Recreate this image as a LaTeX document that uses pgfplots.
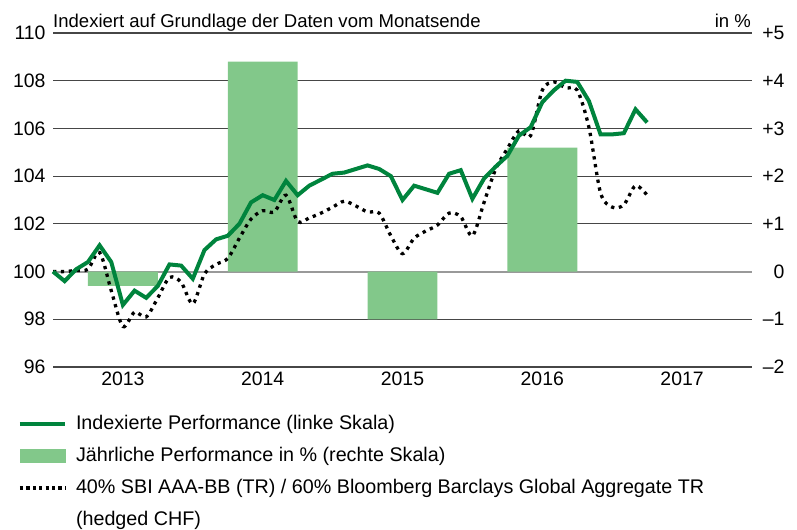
\documentclass[border=0pt]{standalone}
\usepackage{fontspec}
\setmainfont{Liberation Sans}
\usepackage{pgfplots}
\usepackage{pgfplotstable}
\pgfplotsset{compat=1.18}
\definecolor{lgreen}{RGB}{130,200,138}
\definecolor{dgreen}{RGB}{0,132,61}
\definecolor{gridc}{RGB}{70,70,70}
\pgfplotstableread{
m v
0 100.0
1 99.6
2 100.1
3 100.4
4 101.1
5 100.4
6 98.6
7 99.2
8 98.9
9 99.4
10 100.3
11 100.25
12 99.7
13 100.9
14 101.35
15 101.5
16 102.0
17 102.9
18 103.2
19 103.0
20 103.8
21 103.2
22 103.6
23 103.85
24 104.1
25 104.15
26 104.3
27 104.45
28 104.3
29 104.0
30 103.0
31 103.6
32 103.45
33 103.3
34 104.1
35 104.25
36 103.05
37 103.9
38 104.4
39 104.85
40 105.7
41 106.05
42 107.1
43 107.6
44 108.0
45 107.95
46 107.15
47 105.75
48 105.75
49 105.8
50 106.8
51 106.25
}\fund
\pgfplotstableread{
m v
0 100.0
1 100.0
2 100.05
3 100.1
4 100.8
5 99.2
6 97.7
7 98.3
8 98.1
9 98.9
10 99.75
11 99.55
12 98.65
13 99.9
14 100.3
15 100.55
16 101.4
17 102.2
18 102.55
19 102.5
20 103.2
21 102.1
22 102.25
23 102.45
24 102.7
25 102.95
26 102.75
27 102.5
28 102.45
29 101.5
30 100.75
31 101.4
32 101.7
33 101.95
34 102.45
35 102.3
36 101.5
37 102.9
38 104.3
39 105.15
40 105.9
41 105.7
42 107.6
43 107.95
44 107.7
45 107.6
46 106.05
47 103.3
48 102.7
49 102.8
50 103.6
51 103.2
}\bench
\pgfplotstableread{
m v
6 -0.3
18 4.4
30 -1.0
42 2.6
}\annual
\begin{document}
\begin{tikzpicture}
\path (0,0) rectangle (797bp,527bp);
\begin{axis}[
  at={(53bp,160bp)}, anchor=south west,
  scale only axis, width=699bp, height=334bp,
  xmin=0, xmax=60, ymin=-2, ymax=5,
  axis x line*=bottom, axis y line*=right,
  x axis line style={draw=gridc, line width=2bp, -},
  y axis line style={draw=none},
  major tick length=0pt,
  xtick={6,18,30,42,54}, xticklabels={2013,2014,2015,2016,2017},
  ytick={-2,-1,1,2,3,4,5}, yticklabels={–2,–1,+1,+2,+3,+4,+5},
  extra y ticks={0}, extra y tick labels={0},
  extra y tick style={grid style={draw=gray!80, line width=2bp}},
  ymajorgrids, grid style={draw=gridc, line width=1.1bp},
  tick label style={font=\fontsize{19.5}{22}\selectfont},
  yticklabel style={anchor=east, xshift=36bp},
  xticklabel style={yshift=-1bp},
  ybar, bar width=6,
]
\addplot[fill=lgreen, draw=none] table[x=m, y=v] {\annual};
\end{axis}
\begin{axis}[
  at={(53bp,160bp)}, anchor=south west,
  scale only axis, width=699bp, height=334bp,
  xmin=0, xmax=60, ymin=96, ymax=110,
  axis line style={draw=none},
  major tick length=0pt,
  xtick=\empty,
  ytick={96,98,100,102,104,106,108,110},
  yticklabels={96,98,100,102,104,106,108,110},
  tick label style={font=\fontsize{19.5}{22}\selectfont},
  yticklabel style={anchor=east, xshift=-4bp},
  clip=false,
  legend cell align=left,
  legend style={at={(0,0)}, anchor=north west, xshift=-35bp, yshift=-47.5bp,
    draw=none, fill=none, inner sep=0pt, outer sep=0pt,
    row sep=13bp, font=\fontsize{19.8}{23}\selectfont,
    nodes={inner sep=0pt, text height=14.5bp, text depth=4.5bp},
    /tikz/every odd column/.append style={column sep=9bp}},
]
\addlegendimage{legend image code/.code={\draw[dgreen, line width=4bp] (0bp,0bp) -- (45bp,0bp);}}
\addlegendentry{Indexierte Performance (linke Skala)}
\addlegendimage{legend image code/.code={\fill[lgreen] (0bp,-6.5bp) rectangle (45bp,6.5bp);}}
\addlegendentry{Jährliche Performance in \% (rechte Skala)}
\addlegendimage{legend image code/.code={\draw[black, line width=3.2bp, dash pattern=on 3.2bp off 3.2bp] (0bp,0bp) -- (45bp,0bp);}}
\addlegendentry{40\% SBI AAA-BB (TR) / 60\% Bloomberg Barclays Global Aggregate TR}
\addlegendimage{empty legend}
\addlegendentry{(hedged CHF)}
\addplot[black, line width=3.3bp, dash pattern=on 3.3bp off 4.6bp, smooth, tension=0.5, forget plot] table[x=m, y=v] {\bench};
\addplot[dgreen, line width=4bp, forget plot] table[x=m, y=v] {\fund};
\node[anchor=base west, inner sep=0pt, font=\fontsize{18.6}{21}\selectfont] at (rel axis cs:0,1) [yshift=5bp] {Indexiert auf Grundlage der Daten vom Monatsende};
\node[anchor=base east, inner sep=0pt, font=\fontsize{18.6}{21}\selectfont] at (rel axis cs:1,1) [yshift=5bp, xshift=-1bp] {in \%};
\end{axis}
\end{tikzpicture}
\end{document}
